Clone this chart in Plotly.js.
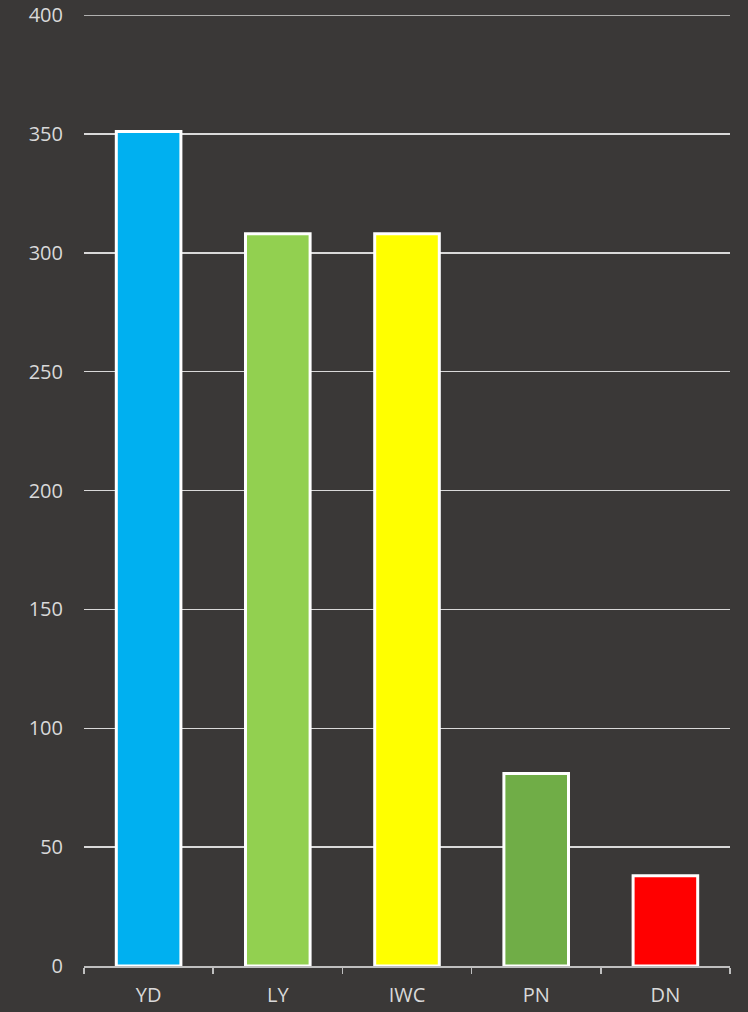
<!DOCTYPE html>
<html>
<head>
<meta charset="utf-8">
<script src="https://cdn.plot.ly/plotly-3.0.1.min.js"></script>
<style>
  html, body { margin: 0; padding: 0; background: #3a3837; }
  #chart { width: 748px; height: 1012px; }
</style>
</head>
<body>
<div id="chart"></div>
<script>
const categories = ["YD", "LY", "IWC", "PN", "DN"];
const values = [351, 308, 308, 81, 38];
const barColors = ["#00b0f0", "#92d050", "#ffff00", "#70ad47", "#ff0000"];
const yTicks = [0, 50, 100, 150, 200, 250, 300, 350, 400];

const trace = {
  type: "bar",
  x: categories,
  y: values,
  marker: { color: barColors, line: { color: "#ffffff", width: 3 } },
  hoverinfo: "x+y"
};

const layout = {
  width: 748,
  height: 1012,
  paper_bgcolor: "#3a3837",
  plot_bgcolor: "#3a3837",
  margin: { l: 84, r: 18, t: 15, b: 46 },
  bargap: 0.5,
  showlegend: false,
  font: { family: "Open Sans, sans-serif", size: 20, color: "#d9d9d9" },
  shapes: [{
    type: "line", xref: "paper", yref: "y",
    x0: 0, x1: 1, y0: yTicks[yTicks.length - 1], y1: yTicks[yTicks.length - 1],
    line: { color: "#d9d9d9", width: 1.5 }, layer: "below"
  }],
  xaxis: {
    type: "category",
    showgrid: false,
    showline: true,
    linecolor: "#bfbfbf",
    linewidth: 1.5,
    ticks: "outside",
    tickson: "boundaries",
    ticklen: 6,
    tickcolor: "#bfbfbf",
    tickwidth: 1.5,
    ticklabelstandoff: 10,
    tickfont: { size: 20, color: "#d9d9d9" }
  },
  yaxis: {
    range: [0, 400],
    tickvals: yTicks,
    showgrid: true,
    gridcolor: "#d9d9d9",
    gridwidth: 1.5,
    zeroline: false,
    showline: false,
    ticks: "",
    ticklabelstandoff: 20,
    tickfont: { size: 20, color: "#d9d9d9" }
  }
};

Plotly.newPlot("chart", [trace], layout, { displayModeBar: false, staticPlot: true });
</script>
</body>
</html>
